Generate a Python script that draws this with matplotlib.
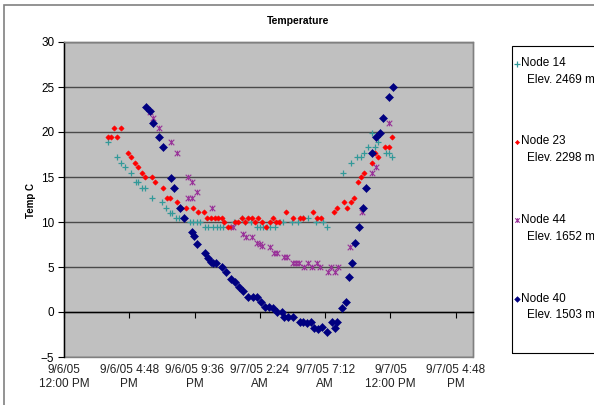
import matplotlib
matplotlib.use('Agg')
import matplotlib.pyplot as plt
from matplotlib.path import Path
from matplotlib.lines import Line2D
from matplotlib.patches import Rectangle

plt.rcParams['font.family'] = ['Liberation Sans', 'DejaVu Sans']

# time axis: hours since 9/6/05 12:00 PM
n14_t = [3.2, 3.92, 4.19, 4.49, 4.93, 5.26, 5.44, 5.74, 5.98, 6.45, 7.24, 7.5, 7.79, 7.96,
         8.26, 8.47, 9.24, 9.51, 9.76, 10.02, 10.37, 10.59, 10.98, 11.23, 11.47, 11.71,
         12.52, 13.07, 13.31, 13.73, 14.17, 14.41, 14.65, 14.9, 15.15, 15.51, 15.88, 16.13,
         16.74, 17.21, 17.6, 17.96, 18.53, 19.07, 19.32, 20.54, 21.1, 21.57, 21.82, 22.08,
         22.38, 22.87, 23.07, 22.63, 23.68, 23.92, 24.15]
n14_v = [18.9, 17.2, 16.6, 16.1, 15.5, 14.4, 14.4, 13.8, 13.8, 12.7, 12.2, 11.6, 11.0, 11.0,
         10.5, 10.5, 10.0, 10.0, 10.0, 10.0, 9.4, 9.4, 9.4, 9.4, 9.4, 9.4,
         10.0, 10.5, 10.0, 10.0, 9.4, 9.4, 9.4, 9.4, 9.4, 9.4, 10.0, 10.0,
         10.0, 10.0, 10.5, 10.5, 10.0, 10.0, 9.4, 15.5, 16.6, 17.2, 17.2, 17.7,
         18.3, 18.3, 18.9, 19.9, 17.7, 17.7, 17.2]

n23_t = [3.2, 3.47, 3.93, 3.71, 4.17, 4.73, 4.9, 5.24, 5.43, 5.74, 5.99, 6.45, 6.69, 7.26,
         7.55, 7.77, 8.29, 8.63, 8.99, 9.47, 9.85, 10.26, 10.49, 10.79, 11.07, 11.32, 11.6,
         11.78, 12.08, 12.26, 12.57, 12.82, 13.07, 13.31, 13.55, 13.8, 14.04, 14.29, 14.54,
         14.85, 15.15, 15.35, 15.59, 15.83, 16.32, 16.8, 17.32, 17.6, 18.31, 18.58, 18.88,
         19.82, 20.1, 20.59, 20.83, 21.08, 21.34, 21.62, 21.82, 22.08, 22.63, 22.85, 23.07,
         23.6, 23.9, 24.14]
n23_v = [19.4, 19.4, 19.4, 20.5, 20.5, 17.7, 17.2, 16.6, 16.1, 15.5, 15.0, 15.0, 14.4, 13.8,
         12.7, 12.7, 12.2, 11.6, 11.6, 11.6, 11.1, 11.1, 10.5, 10.5, 10.5, 10.5, 10.5,
         10.0, 9.4, 9.4, 10.0, 10.0, 10.5, 10.0, 10.5, 10.5, 10.0, 10.5, 10.0,
         9.4, 10.0, 10.5, 10.0, 10.0, 11.1, 10.5, 10.5, 10.5, 11.1, 10.5, 10.5,
         11.1, 11.6, 12.2, 11.6, 12.2, 12.7, 14.4, 15.0, 15.5, 16.6, 17.7, 17.2,
         18.3, 18.3, 19.4]

n44_t = [6.32, 6.57, 7.01, 7.85, 8.33, 9.1, 9.39, 9.77, 9.1, 9.39, 10.86, 12.43, 13.16,
         13.37, 13.85, 14.19, 14.38, 14.56, 15.15, 15.42, 15.64, 16.18, 16.36, 16.84, 17.06,
         17.28, 17.63, 17.92, 18.21, 18.6, 18.85, 19.41, 19.65, 19.93, 20.15, 21.03, 21.93,
         22.67, 22.94, 23.92]
n44_v = [22.2, 21.6, 20.5, 18.9, 17.7, 15.0, 14.4, 13.3, 12.7, 12.7, 11.6, 9.4, 8.7,
         8.3, 8.3, 7.7, 7.6, 7.3, 7.2, 6.6, 6.6, 6.1, 6.1, 5.5, 5.5,
         5.5, 5.0, 5.5, 5.0, 5.5, 5.0, 4.4, 5.0, 4.4, 5.0, 7.2, 11.1,
         15.5, 16.1, 21.0]

n40_t = [6.0, 6.3, 6.55, 7.0, 7.3, 7.85, 8.1, 8.55, 8.85, 9.4, 9.55, 9.78, 10.37, 10.61,
         10.79, 10.98, 11.18, 11.6, 11.91, 12.28, 12.57, 12.87, 13.18, 13.55, 13.92, 14.17,
         14.49, 14.78, 15.07, 15.39, 15.64, 16.01, 16.2, 16.5, 16.8, 17.35, 17.6, 17.85,
         18.15, 18.4, 18.7, 18.95, 19.35, 19.7, 19.95, 20.1, 20.46, 20.71, 20.96, 21.15,
         21.4, 21.69, 21.95, 22.2, 22.63, 22.94, 23.24, 23.43, 23.92, 24.21]
n40_v = [22.8, 22.3, 21.0, 19.4, 18.3, 14.9, 13.8, 11.6, 10.5, 8.9, 8.4, 7.6, 6.6, 6.0,
         5.6, 5.5, 5.5, 5.0, 4.4, 3.7, 3.3, 2.8, 2.3, 1.7, 1.7, 1.7,
         1.1, 0.6, 0.6, 0.4, 0.0, 0.0, -0.6, -0.6, -0.6, -1.1, -1.1, -1.2,
         -1.1, -1.8, -1.9, -1.7, -2.2, -1.1, -1.8, -1.1, 0.5, 1.1, 3.9, 5.5,
         7.7, 9.4, 11.6, 13.8, 17.7, 19.4, 19.9, 21.6, 23.9, 25.0]

tick_hours = [0, 4.8, 9.6, 14.4, 19.2, 24.0, 28.8]
tick_labels = ['9/6/05\n12:00 PM', '9/6/05 4:48\nPM', '9/6/05 9:36\nPM', '9/7/05 2:24\nAM',
               '9/7/05 7:12\nAM', '9/7/05\n12:00 PM', '9/7/05 4:48\nPM']
y_ticks = [-5, 0, 5, 10, 15, 20, 25, 30]
legend_names = ['Node 14', 'Node 23', 'Node 44', 'Node 40']
legend_elev = ['Elev. 2469 m', 'Elev. 2298 m', 'Elev. 1652 m', 'Elev. 1503 m']

W, H = 594, 405
fig = plt.figure(figsize=(W / 100, H / 100), dpi=100)
fig.patch.set_facecolor('white')

def fx(px):
    return px / W

def fy(py):
    return 1 - py / H

L, R, T, B = 64, 473, 42, 357
ax = fig.add_axes([fx(L), fy(B), (R - L) / W, (B - T) / H])
ax.set_facecolor('#C0C0C0')
ax.set_xlim(0, 30.07)
ax.set_ylim(-5, 30)

# star marker (x with vertical bar)
star = Path([(-1, -1), (1, 1), (-1, 1), (1, -1), (0, -1), (0, 1)],
            [Path.MOVETO, Path.LINETO, Path.MOVETO, Path.LINETO, Path.MOVETO, Path.LINETO])

c14, c23, c44, c40 = '#339999', '#FF0000', '#993399', '#000080'
styles = [
    dict(marker='+', ms=4.6, mew=0.9, color=c14),
    dict(marker='D', ms=2.7, mew=0.4, color=c23, mec=c23),
    dict(marker=star, ms=4.0, mew=0.8, color=c44, mfc='none', mec=c44),
    dict(marker='D', ms=3.6, mew=0.4, color=c40, mec=c40),
]
series = [(n14_t, n14_v), (n23_t, n23_v), (n44_t, n44_v), (n40_t, n40_v)]
for (t, v), st in zip(series, styles):
    ax.plot(t, v, linestyle='none', zorder=3, **st)

# grid
ax.set_yticks(y_ticks)
ax.yaxis.grid(True, color='#4a4a4a', linewidth=1.0, zorder=1)
ax.set_axisbelow(True)
ax.tick_params(axis='y', direction='out', length=4, width=0.8, labelsize=8.5,
               pad=3, colors='black')

for s in ['top', 'right']:
    ax.spines[s].set_color('#808080')
    ax.spines[s].set_linewidth(1.0)
ax.spines['left'].set_color('black')
ax.spines['left'].set_linewidth(1.0)
ax.spines['bottom'].set_position(('data', 0))
ax.spines['bottom'].set_color('black')
ax.spines['bottom'].set_linewidth(1.0)
ax.set_xticks(tick_hours)
ax.tick_params(axis='x', direction='out', length=4, width=0.8, labelbottom=False)

ax.add_patch(Rectangle((0, 0), 1, 1, transform=ax.transAxes, fill=False,
                       edgecolor='#808080', linewidth=1.0, zorder=0.5, clip_on=False))

sec = ax.secondary_xaxis('bottom')
sec.set_xticks(tick_hours)
sec.set_xticklabels(tick_labels, fontsize=8.5, linespacing=1.25, color='#222222')
sec.tick_params(length=0, pad=5)
sec.spines['bottom'].set_visible(False)

fig.text(fx(298), fy(21), 'Temperature', ha='center', va='center', fontsize=7.5,
         fontweight='bold')
fig.text(fx(31), fy(200), 'Temp C', ha='center', va='center', rotation=90,
         fontsize=7, fontweight='bold')

# outer chart border
fig.add_artist(Rectangle((fx(4), fy(H + 10)), (W + 10) / W, (H + 5) / H,
                         transform=fig.transFigure, fill=False, edgecolor='#808080',
                         linewidth=1.2))

# legend box (manual)
fig.add_artist(Rectangle((fx(512), fy(353)), 120 / W, (353 - 46) / H,
                         transform=fig.transFigure, fill=False, edgecolor='black',
                         linewidth=0.8))
rows = [63.5, 141.5, 220, 299]
for i, yy in enumerate(rows):
    st = dict(styles[i])
    st['ms'] = st['ms'] * 0.8
    fig.add_artist(Line2D([fx(517)], [fy(yy)], transform=fig.transFigure,
                          linestyle='none', **st))
    fig.text(fx(521), fy(yy), legend_names[i], ha='left', va='center', fontsize=8.5)
    fig.text(fx(527), fy(yy + 16.5), legend_elev[i], ha='left', va='center', fontsize=8.5)

fig.savefig('out.png', dpi=100)
